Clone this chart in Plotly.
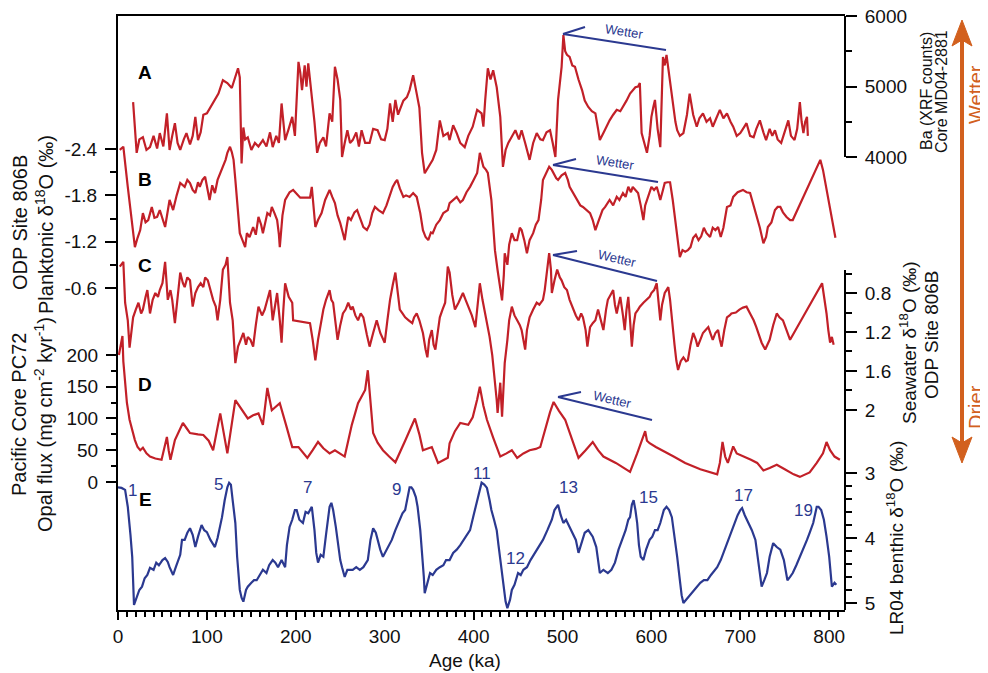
import plotly.graph_objects as go

# ---------------- data ----------------
# A: Ba XRF counts, core MD04-2881
age_a = [17,21,24,28,32,36,40,44,47,51,55,58,61,64,67,70,74,77,81,84,87,90,93,96,100,107,110,113,118,123,128,132,135,137,139,141,143,146,150,154,158,163,167,171,174,178,181,184,188,192,196,199,203,205,207,210,212,214,216,218,221,224,227,231,234,238,241,244,247,250,252,255,258,261,264,268,271,274,278,283,287,292,296,300,303,306,309,312,315,317,321,325,328,332,334,336,339,342,345,349,354,358,362,366,371,373,377,381,385,390,394,399,404,409,411,413,416,419,422,426,430,433,436,439,443,447,451,454,458,463,467,471,475,478,482,486,489,492,495,499,501,503,505,508,511,514,518,522,525,529,533,537,540,542,546,550,553,557,561,565,568,572,576,579,582,585,587,589,592,595,598,600,602,604,607,610,613,615,617,619,621,624,627,629,632,636,640,643,647,651,654,658,662,666,669,673,677,681,685,689,692,696,700,703,707,711,715,718,722,726,729,733,736,739,742,746,750,754,757,761,764,767,769,771,773,775,776]
ba = [4780,4060,4250,4280,4100,4140,4300,4120,4340,4150,4620,4100,4300,4480,4200,4100,4250,4340,4180,4300,4570,4240,4350,4600,4620,4780,4830,4900,5090,5050,4980,5150,5260,5130,3910,4420,4250,4280,4100,4200,4150,4240,4150,4350,4140,4300,4200,4760,4240,4400,4570,4300,5350,5200,4950,5300,5000,5330,5100,4810,4500,4060,4200,4280,4150,4620,4500,5280,5100,4810,4000,4200,4380,4200,4240,4350,4150,4380,4200,4200,4400,4380,4250,4240,4400,4760,4500,4810,4600,4670,4800,4850,4950,5160,5050,4900,4700,4060,3770,3850,3960,4100,4520,4300,4340,4240,4450,4340,4200,4140,4300,4430,4670,4620,4430,4800,5260,5100,5230,4990,4570,3860,4100,4200,4300,4380,4250,4380,4200,3960,4200,4340,4250,4240,4350,4380,4200,4000,4810,5280,5730,5500,5450,5420,5300,5280,5100,4950,4800,4710,4650,4620,4400,4240,4340,4450,4520,4600,4670,4650,4710,4800,4900,4950,4990,5000,5050,4340,4200,4060,4300,4570,4700,4810,4400,4140,5420,5300,5450,5250,5130,4810,4500,4380,4300,4340,4600,4900,4600,4430,4550,4620,4500,4550,4430,4550,4670,4550,4620,4500,4430,4300,4340,4400,4480,4300,4280,4400,4520,4350,4240,4400,4300,4380,4250,4200,4350,4520,4300,4240,4400,4780,4500,4340,4500,4570,4300]

# B: planktonic d18O, ODP 806B
age_b = [2,6,11,16,19,22,25,28,31,34,38,41,44,47,50,53,58,62,66,70,75,78,81,84,87,90,92,95,98,101,103,106,109,112,115,118,121,123,126,128,130,132,134,137,140,143,145,148,152,155,158,161,163,166,168,171,173,176,179,181,182,185,188,190,193,197,205,214,216,218,220,222,225,229,233,236,238,241,244,247,250,253,255,257,259,262,266,269,272,276,280,283,286,289,293,298,302,306,309,312,314,317,321,324,328,332,336,340,343,346,349,352,354,358,362,366,371,373,377,381,385,388,392,396,400,404,406,407,409,411,414,416,420,424,427,430,432,434,435,438,440,443,446,449,452,454,457,460,463,467,470,473,476,478,482,485,488,490,493,495,499,503,506,508,512,516,520,523,527,531,534,537,540,542,545,548,551,553,557,561,564,568,571,574,577,579,582,585,588,591,593,595,598,600,603,606,608,610,613,615,618,621,624,627,630,632,635,638,641,644,647,650,653,656,659,662,666,669,672,675,678,681,685,689,692,697,703,707,711,715,719,722,726,729,731,735,739,742,745,748,752,756,759,790,793,797,800,803,807]
d18o_pl = [-2.39,-2.43,-1.91,-1.39,-1.13,-1.25,-1.35,-1.57,-1.45,-1.48,-1.65,-1.51,-1.52,-1.61,-1.51,-1.39,-1.74,-1.61,-1.80,-1.96,-1.91,-2.0,-1.96,-1.87,-1.83,-1.97,-1.91,-2.0,-2.04,-1.87,-1.74,-1.93,-1.83,-2.0,-2.09,-2.17,-2.26,-2.35,-2.43,-2.36,-2.26,-2.0,-1.74,-1.31,-1.22,-1.13,-1.31,-1.26,-1.39,-1.29,-1.52,-1.42,-1.31,-1.48,-1.57,-1.54,-1.65,-1.57,-1.48,-1.29,-1.13,-1.54,-1.74,-1.78,-1.84,-1.87,-1.77,-1.77,-1.77,-1.91,-1.67,-1.39,-1.48,-1.57,-1.74,-1.83,-1.87,-1.78,-1.70,-1.54,-1.44,-1.31,-1.22,-1.38,-1.52,-1.48,-1.58,-1.61,-1.51,-1.39,-1.35,-1.42,-1.57,-1.65,-1.61,-1.57,-1.67,-1.80,-1.91,-1.97,-2.0,-1.89,-1.78,-1.80,-1.78,-1.83,-1.78,-1.57,-1.35,-1.26,-1.22,-1.32,-1.31,-1.42,-1.48,-1.57,-1.61,-1.70,-1.74,-1.78,-1.71,-1.74,-1.84,-1.91,-2.0,-2.09,-2.26,-2.35,-2.26,-2.17,-2.13,-2.09,-1.74,-1.09,-0.83,-0.61,-0.44,-0.77,-1.05,-0.90,-1.16,-1.31,-1.22,-1.22,-1.38,-1.35,-1.22,-1.05,-1.22,-1.31,-1.42,-1.48,-1.74,-2.0,-2.10,-2.17,-2.13,-2.09,-2.02,-2.0,-2.06,-2.09,-2.0,-1.91,-1.83,-1.74,-1.67,-1.65,-1.61,-1.57,-1.48,-1.35,-1.45,-1.52,-1.61,-1.65,-1.70,-1.74,-1.67,-1.78,-1.74,-1.83,-1.78,-1.91,-1.84,-1.91,-1.87,-1.83,-1.67,-1.48,-1.67,-1.74,-1.87,-1.91,-1.87,-1.91,-1.83,-1.74,-1.87,-1.96,-1.97,-1.97,-1.74,-1.48,-1.16,-1.00,-1.09,-1.07,-1.09,-1.13,-1.25,-1.29,-1.22,-1.27,-1.38,-1.31,-1.26,-1.38,-1.35,-1.39,-1.26,-1.38,-1.65,-1.67,-1.78,-1.84,-1.87,-1.84,-1.83,-1.67,-1.52,-1.38,-1.18,-1.26,-1.39,-1.45,-1.61,-1.65,-1.65,-1.58,-1.52,-1.48,-1.48,-2.26,-2.13,-1.87,-1.67,-1.48,-1.25]

# C: seawater d18O, ODP 806B
age_c = [2,6,8,11,13,15,17,20,23,26,28,31,33,36,39,42,45,47,50,53,56,59,61,64,67,70,73,75,78,81,84,87,90,93,96,98,101,104,107,110,112,115,118,121,123,126,129,132,135,138,141,144,146,149,152,155,158,162,165,168,171,174,177,179,182,184,186,188,192,196,197,205,213,216,219,222,225,227,231,234,238,240,242,245,247,250,253,256,259,262,264,267,270,273,276,280,283,287,291,295,300,303,306,309,312,315,317,320,323,327,331,333,336,339,343,346,348,350,353,355,357,360,362,365,368,371,373,376,379,383,386,388,391,394,398,402,405,407,410,413,416,418,421,424,426,427,429,430,432,434,435,438,440,443,446,449,452,454,456,458,460,463,467,471,474,478,480,482,485,487,488,491,494,497,499,502,505,508,512,515,518,521,523,526,528,531,534,537,540,543,546,549,551,554,557,559,561,563,565,568,570,572,574,576,578,580,582,585,587,591,595,598,600,603,606,608,610,612,615,617,619,621,623,626,628,630,633,636,639,641,644,647,650,652,655,658,661,664,667,669,672,675,677,679,682,685,688,690,695,699,703,707,711,715,718,720,724,728,731,733,737,741,744,748,752,756,792,795,797,799,801,803,805]
d18o_sw = [0.53,0.48,0.90,1.08,1.36,1.18,1.05,0.97,0.90,1.01,0.97,0.84,0.77,1.01,0.87,0.80,0.84,0.77,0.70,0.48,0.87,0.77,0.87,1.11,0.84,0.59,0.70,0.74,0.64,0.67,0.94,0.80,0.74,0.70,0.74,0.64,0.67,0.77,0.87,0.94,1.08,0.87,0.56,0.51,0.43,0.90,1.08,1.52,1.35,1.28,1.21,1.33,1.25,1.28,1.35,1.13,0.94,1.03,0.97,0.87,0.77,1.08,0.90,0.80,1.08,1.31,0.97,0.70,0.84,0.90,1.08,1.09,1.10,1.11,1.28,1.49,1.28,1.18,0.97,0.87,0.77,0.87,0.90,1.13,1.28,1.13,1.01,0.97,0.90,0.97,0.94,1.03,1.08,1.01,1.05,1.23,1.35,1.21,1.08,1.21,1.31,1.08,0.87,0.72,0.59,0.82,0.97,1.01,1.05,1.08,1.11,1.05,1.01,1.08,1.21,1.38,1.46,1.28,1.18,1.33,1.38,1.18,1.05,0.97,0.90,0.53,0.59,0.82,0.97,0.90,0.84,0.80,0.87,0.94,1.03,1.15,0.87,0.70,0.87,1.01,1.13,1.25,1.44,1.69,1.90,2.03,1.85,1.72,2.07,1.74,1.52,1.28,1.08,0.94,1.03,1.08,1.13,1.18,1.28,1.38,1.18,1.05,0.97,0.90,0.92,0.87,0.77,0.59,0.39,0.56,0.80,0.67,0.56,0.64,0.67,0.74,0.77,0.87,0.97,1.03,1.08,1.01,1.05,1.18,1.35,1.15,1.11,1.08,0.97,1.08,1.18,0.97,0.87,0.82,0.77,0.92,1.01,0.92,0.84,1.03,1.18,0.97,0.84,1.08,1.35,1.13,1.01,0.97,0.94,0.90,0.87,0.84,0.80,0.77,0.70,0.87,1.08,0.92,0.80,0.77,0.74,0.87,1.08,1.33,1.49,1.59,1.50,1.46,1.50,1.49,1.33,1.21,1.28,1.35,1.28,1.21,1.18,1.15,1.23,1.28,1.21,1.18,1.28,1.35,1.18,1.05,1.03,1.01,1.00,0.97,0.95,0.94,1.01,1.08,1.15,1.21,1.31,1.38,1.31,1.28,1.13,1.01,1.05,1.08,1.18,1.28,0.70,0.87,1.01,1.18,1.31,1.25,1.33]

# D: opal flux, Pacific core PC72
age_d = [1,3,5,6,8,10,13,16,19,22,25,28,32,36,42,49,55,57,59,64,69,73,77,81,90,96,102,107,115,123,132,139,146,152,158,163,168,173,178,182,189,196,203,213,219,225,231,238,244,255,263,270,278,281,285,287,292,298,305,312,323,334,339,343,353,360,371,373,379,385,394,399,404,407,411,415,422,430,437,443,449,456,463,470,475,482,486,490,496,503,510,518,526,534,540,546,560,576,584,591,593,595,598,605,612,625,638,655,674,677,680,683,686,689,692,696,705,712,719,726,733,741,750,760,767,778,786,793,797,801,806,812]
opal = [200,215,230,190,156,125,98,80,66,55,50,54,45,40,37,35,71,50,35,66,80,93,85,77,75,74,65,50,108,45,129,115,100,105,108,90,148,113,120,124,90,55,55,38,50,63,53,45,50,40,90,124,145,176,110,77,62,50,40,31,65,100,75,50,55,30,38,61,80,93,90,102,130,150,120,98,70,40,45,50,38,45,50,52,55,93,110,126,112,98,70,38,50,63,50,40,30,16,45,71,80,65,61,55,50,40,30,20,12,30,63,40,30,45,56,45,40,35,30,18,22,27,20,12,8,15,30,45,63,50,40,35]

# E: LR04 benthic d18O stack
age_e = [0,4,8,11,14,16,18,21,24,27,30,33,36,40,43,46,50,53,56,58,60,62,65,67,70,72,75,78,81,84,87,90,94,97,100,104,107,109,112,115,117,120,123,125,127,129,131,132,134,137,139,141,144,146,150,153,156,160,163,167,170,174,177,180,184,188,190,193,196,199,201,204,208,211,214,218,221,223,225,228,231,234,236,238,240,242,245,248,250,252,255,258,261,264,268,272,276,279,281,284,287,290,292,295,298,302,305,308,312,315,317,320,323,325,328,330,332,335,337,340,342,344,345,348,351,354,358,362,366,369,373,377,381,385,389,393,396,400,404,407,409,412,415,418,420,423,426,428,430,432,434,436,438,441,443,446,450,453,456,460,464,469,473,478,483,488,491,495,498,501,504,508,512,515,518,521,525,529,534,538,542,546,551,555,559,563,567,571,574,576,578,580,582,584,586,588,591,594,598,601,604,607,610,614,617,620,623,626,629,632,634,636,639,642,645,648,651,655,659,663,667,671,674,678,681,685,689,692,694,697,700,702,705,709,713,717,720,722,724,727,730,733,737,741,745,749,753,756,759,763,767,771,775,778,782,786,788,791,794,797,800,803,806,808]
lr04 = [3.22,3.23,3.26,3.52,3.95,4.29,5.03,4.91,4.80,4.75,4.62,4.57,4.46,4.49,4.38,4.42,4.34,4.31,4.37,4.45,4.52,4.57,4.45,4.38,4.26,4.03,4.03,3.92,3.85,3.95,4.14,3.98,3.80,3.88,3.91,4.03,4.11,4.14,4.0,3.80,3.68,3.42,3.22,3.15,3.18,3.42,3.65,3.77,4.29,4.80,4.92,4.98,4.80,4.75,4.69,4.65,4.65,4.57,4.49,4.54,4.42,4.34,4.38,4.45,4.34,4.45,4.11,3.83,3.72,3.57,3.57,3.72,3.77,3.60,3.62,3.52,3.88,4.23,4.38,4.26,4.29,3.95,3.77,3.52,3.46,3.57,3.83,4.18,4.34,4.45,4.60,4.49,4.49,4.49,4.45,4.49,4.45,4.38,4.34,4.03,3.85,3.92,4.03,4.18,4.29,4.18,4.11,4.03,3.88,3.77,3.72,3.62,3.57,3.42,3.22,3.22,3.26,3.37,3.52,3.88,4.18,4.60,4.85,4.69,4.54,4.57,4.49,4.45,4.42,4.34,4.34,4.23,4.18,4.11,4.03,3.95,3.88,3.65,3.42,3.22,3.15,3.18,3.23,3.42,3.57,3.72,3.88,4.11,4.34,4.60,4.80,4.98,5.08,4.95,4.80,4.72,4.54,4.57,4.49,4.45,4.34,4.23,4.15,4.03,3.88,3.72,3.57,3.49,3.65,3.77,3.72,3.83,3.95,4.03,4.23,4.11,3.92,3.88,3.98,4.14,4.54,4.49,4.54,4.49,4.38,4.18,4.03,3.88,3.72,3.68,3.49,3.42,3.57,3.77,4.11,4.29,4.34,4.18,4.03,3.98,3.88,3.88,3.77,3.57,3.52,3.57,3.68,3.95,4.29,4.65,4.88,5.00,4.95,4.91,4.85,4.80,4.75,4.69,4.65,4.65,4.57,4.49,4.45,4.34,4.23,4.08,3.95,3.83,3.77,3.65,3.57,3.54,3.65,3.77,3.88,4.03,4.34,4.57,4.75,4.65,4.54,4.29,4.08,4.14,4.18,4.34,4.65,4.60,4.54,4.42,4.29,4.18,4.03,3.92,3.77,3.52,3.52,3.57,3.72,3.98,4.29,4.75,4.69,4.72]

mis_labels = ["1", "5", "7", "9", "11", "12", "13", "15", "17", "19"]

# ---------------- layout geometry (screen pixels; page body has an 8px margin) ----------------
OFF = 8
W, H = 988 - OFF, 673 - OFF
PL, PR, PT, PB = 118, 845, 16, 610
RED = "#C22028"
BLUE = "#2B3990"
ORANGE = "#D2601E"
FONT = "Liberation Sans, Arial, sans-serif"

def px(x):
    return (x - PL) / (PR - PL)

def py(y):
    return (PB - y) / (PB - PT)

def yr(v0, p0, v1, p1):
    s = (v1 - v0) / (p1 - p0)
    b, t = v0 + (PB - p0) * s, v0 + (PT - p0) * s
    e = (b - t) * 1e-4
    return [b + e, t - e]

fig = go.Figure()
LW = 2.2
fig.add_trace(go.Scatter(x=age_a, y=ba, mode="lines", line=dict(color=RED, width=LW), yaxis="y2"))
fig.add_trace(go.Scatter(x=age_b, y=d18o_pl, mode="lines", line=dict(color=RED, width=LW), yaxis="y"))
fig.add_trace(go.Scatter(x=age_c, y=d18o_sw, mode="lines", line=dict(color=RED, width=LW), yaxis="y3"))
fig.add_trace(go.Scatter(x=age_d, y=opal, mode="lines", line=dict(color=RED, width=LW), yaxis="y4"))
fig.add_trace(go.Scatter(x=age_e, y=lr04, mode="lines", line=dict(color=BLUE, width=LW), yaxis="y5"))

tickfont = dict(family=FONT, size=19, color="#111")
common = dict(showgrid=False, zeroline=False, ticks="outside", ticklen=11, tickwidth=2,
              tickcolor="black", tickfont=tickfont, tickmode="array", automargin=False,
              ticklabelstandoff=4, ticklabeloverflow="allow")

def minor(vals):
    return dict(tickmode="array", tickvals=vals, ticks="outside", ticklen=6, tickwidth=2, tickcolor="black")

fig.update_layout(
    template="none",
    width=W, height=H, showlegend=False,
    paper_bgcolor="white", plot_bgcolor="white",
    margin=dict(l=PL - OFF, r=W + OFF - PR, t=PT - OFF, b=H + OFF - PB, pad=0, autoexpand=False),
    font=dict(family=FONT, color="#111"),
    xaxis=dict(range=[0, (PR - PL) / 0.889], tickmode="linear", tick0=0, dtick=100,
               ticks="outside", ticklen=8, tickwidth=2, tickcolor="black",
               minor=dict(tickmode="linear", tick0=0, dtick=10, ticks="outside", ticklen=5, tickwidth=1.5, tickcolor="black"),
               showline=True, mirror=True, linewidth=2, linecolor="black", automargin=False,
               ticklabeloverflow="allow",
               showgrid=False, zeroline=False, tickfont=tickfont),
    yaxis=dict(range=yr(-2.4, 149, -0.6, 288), side="left", showline=True, linewidth=2, linecolor="black",
               tickvals=[-2.4, -1.8, -1.2, -0.6], ticktext=["-2.4", "-1.8", "-1.2", "-0.6"],
               minor=minor([-2.1, -1.5, -0.9]), **common),
    yaxis2=dict(range=yr(4000, 157, 6000, 16), side="right", overlaying="y", anchor="x", showline=False,
                tickvals=[4000, 5000, 6000], ticktext=["4000", "5000", "6000"],
                minor=minor([4500, 5500]), **common),
    yaxis3=dict(range=yr(0.8, 293, 2.0, 410), side="right", overlaying="y", anchor="x", showline=False,
                tickvals=[0.8, 1.2, 1.6, 2.0], ticktext=["0.8", "1.2", "1.6", "2"],
                minor=minor([0.6, 1.0, 1.4, 1.8]), **common),
    yaxis4=dict(range=yr(0, 482, 200, 355), side="left", overlaying="y", anchor="x", showline=False,
                tickvals=[0, 50, 100, 150, 200], ticktext=["0", "50", "100", "150", "200"],
                minor=minor([25, 75, 125, 175]), **common),
    yaxis5=dict(range=yr(3, 473, 5, 603), side="right", overlaying="y", anchor="x", showline=False,
                tickvals=[3, 4, 5], ticktext=["3", "4", "5"],
                minor=minor([3.2, 3.4, 3.6, 3.8, 4.2, 4.4, 4.6, 4.8]), **common),
)

def note(x, y, text, size, color, angle=0, bold=False):
    return dict(x=px(x), y=py(y), xref="paper", yref="paper", text=f"<b>{text}</b>" if bold else text,
                showarrow=False, textangle=angle, xanchor="center", yanchor="middle",
                font=dict(family=FONT, size=size, color=color))

shapes = []
# right frame segments
for y0, y1 in [(16, 157), (270, 610)]:
    shapes.append(dict(type="line", xref="paper", yref="paper", x0=1, x1=1, y0=py(y0), y1=py(y1),
                       line=dict(color="black", width=2)))

# blue "Wetter" arrows: tip, tail, barb end, text centre, text angle
wet = [((563, 34), (666, 50), (585, 27), (624, 31), 9),
       ((553, 165), (658, 182), (576, 159), (615, 162), 9),
       ((553, 255), (657, 281), (577, 251), (617, 258), 13),
       ((558, 397), (652, 420), (581, 392), (612, 400), 13)]
annotations = []
for tip, tail, barb, tc, ang in wet:
    shapes.append(dict(type="line", xref="paper", yref="paper", x0=px(tail[0]), y0=py(tail[1]),
                       x1=px(tip[0]), y1=py(tip[1]), line=dict(color=BLUE, width=2)))
    shapes.append(dict(type="line", xref="paper", yref="paper", x0=px(tip[0]), y0=py(tip[1]),
                       x1=px(barb[0]), y1=py(barb[1]), line=dict(color=BLUE, width=2)))
    annotations.append(note(tc[0], tc[1], "Wetter", 13, BLUE, ang))

# orange double arrow
ax = 962
shapes.append(dict(type="line", xref="paper", yref="paper", x0=px(ax), x1=px(ax), y0=py(36), y1=py(446),
                   line=dict(color=ORANGE, width=4)))
def head(pts):
    return "M " + " L ".join(f"{px(x)},{py(y)}" for x, y in pts) + " Z"
shapes.append(dict(type="path", xref="paper", yref="paper", path=head([(ax, 20), (ax + 10, 46), (ax, 40), (ax - 10, 46)]),
                   fillcolor=ORANGE, line=dict(color=ORANGE, width=1)))
shapes.append(dict(type="path", xref="paper", yref="paper", path=head([(ax, 463), (ax + 10, 437), (ax, 443), (ax - 10, 437)]),
                   fillcolor=ORANGE, line=dict(color=ORANGE, width=1)))
annotations.append(note(976, 95, "Wetter", 20, ORANGE, -90))
annotations.append(note(976, 407, "Drier", 20, ORANGE, -90))

# panel letters
for t, (x, y) in zip("ABCDE", [(145, 73), (145, 179), (145, 265), (145, 384), (145, 499)]):
    annotations.append(note(x, y, t, 19, "black", bold=True))

# MIS numbers
mis_pos = [(132, 490), (218, 484), (307, 488), (396, 489), (482, 473), (515, 558), (568, 487), (648, 497), (743, 495), (803, 510)]
for t, (x, y) in zip(mis_labels, mis_pos):
    annotations.append(note(x, y, t, 17, BLUE))

# axis titles
titles = [
    ("ODP Site 806B", 20, 223, 20),
    ("Planktonic δ<sup>18</sup>O (‰)", 44, 225, 20),
    ("Pacific Core PC72", 19, 415, 20),
    ("Opal flux (mg cm<sup>-2</sup> kyr<sup>-1</sup>)", 43, 425, 20),
    ("Ba (XRF counts)", 926, 91, 16),
    ("Core MD04-2881", 941, 91, 16),
    ("Seawater δ<sup>18</sup>O (‰)", 908, 342, 19),
    ("ODP Site 806B", 932, 335, 19),
    ("LR04 benthic δ<sup>18</sup>O (‰)", 895, 538, 19),
]
for t, x, y, s in titles:
    annotations.append(note(x, y, t, s, "#111", -90))
annotations.append(note(465, 660, "Age (ka)", 19, "#111"))

fig.update_layout(shapes=shapes, annotations=annotations)
fig.write_html("out.html")
